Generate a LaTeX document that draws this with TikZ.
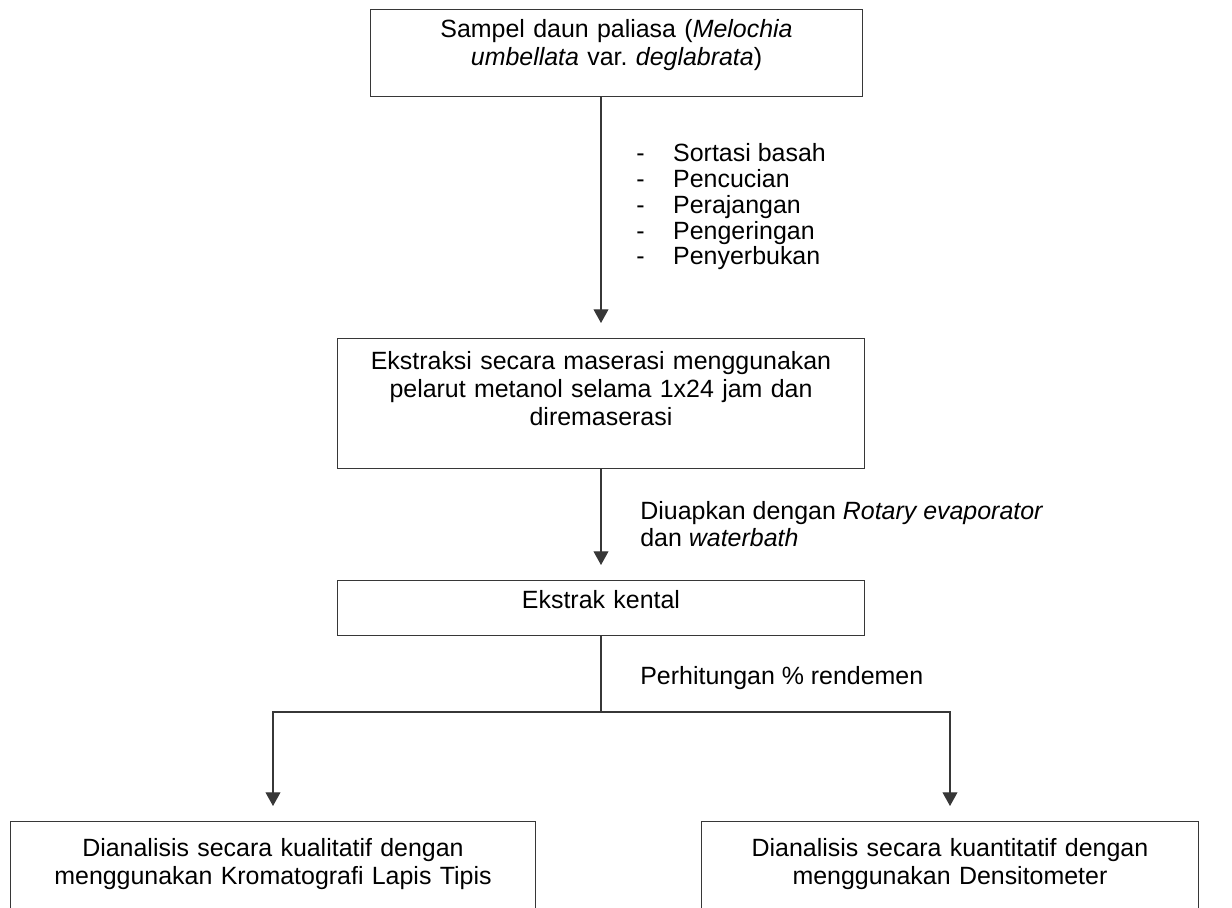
\documentclass[tikz,border=0pt]{standalone}
\usepackage{fontspec}
\setmainfont{Liberation Sans}
\usetikzlibrary{positioning,calc}
\usetikzlibrary{arrows.meta}
\definecolor{LineGray}{RGB}{55,55,55}
\tikzset{
  box/.style={draw=LineGray,line width=0.6pt,inner sep=0pt,align=center,anchor=north},
  link/.style={draw=LineGray,line width=0.6pt},
  arr/.style={link,-{Triangle[width=8.5pt,length=7.8pt]},shorten >=0.3cm},
  note/.style={inner sep=0pt,align=left,anchor=base west},
}

\begin{document}
\begin{tikzpicture}[x=0.02cm,y=-0.02cm,font=\fontsize{14.2}{15.9}\selectfont]
\useasboundingbox (0,0) rectangle (1232,908);
\clip (0,0) rectangle (1232,908);
\node[box,text width=9.86cm,text height=0.56cm,text depth=1.18cm] (sampel) at (616.5,9)
  {Sampel daun paliasa (\textit{Melochia}\\\textit{umbellata} var.\ \textit{deglabrata})};
\node[box,text width=10.56cm,text height=0.62cm,text depth=1.98cm] (maserasi) at (601,338)
  {Ekstraksi secara maserasi menggunakan\\pelarut metanol selama 1x24 jam dan\\diremaserasi};
\node[box,text width=10.56cm,text height=0.56cm,text depth=0.54cm] (kental) at (601,580)
  {Ekstrak kental};
\node[box,text width=10.52cm,text height=0.7cm,text depth=1.5cm] (kual) at (273,821)
  {Dianalisis secara kualitatif dengan\\menggunakan Kromatografi Lapis Tipis};
\node[box,text width=9.96cm,text height=0.7cm,text depth=1.5cm] (kuan) at (950,821)
  {Dianalisis secara kuantitatif dengan\\menggunakan Densitometer};
\coordinate (split) at (601,712);
% connectors
\draw[arr] (sampel.south -| maserasi.north) -- (maserasi.north);
\draw[arr] (maserasi.south) -- (kental.north);
\draw[link] (kental.south) -- (split);
\draw[arr] (split) -| (kual.north);
\draw[arr] (split) -| (kuan.north);
% notes beside the connectors (anchored at their last line)
\node[note,font=\fontsize{14.2}{14.75}\selectfont] (prep) at (636,265)
  {\makebox[21pt][l]{-}Sortasi basah\\\makebox[21pt][l]{-}Pencucian\\
   \makebox[21pt][l]{-}Perajangan\\\makebox[21pt][l]{-}Pengeringan\\
   \makebox[21pt][l]{-}Penyerbukan};
\node[note] (uap) at (640,547)
  {Diuapkan dengan \textit{Rotary evaporator}\\dan \textit{waterbath}};
\node[note] (rend) at (640,685) {Perhitungan \% rendemen};
\end{tikzpicture}
\end{document}
